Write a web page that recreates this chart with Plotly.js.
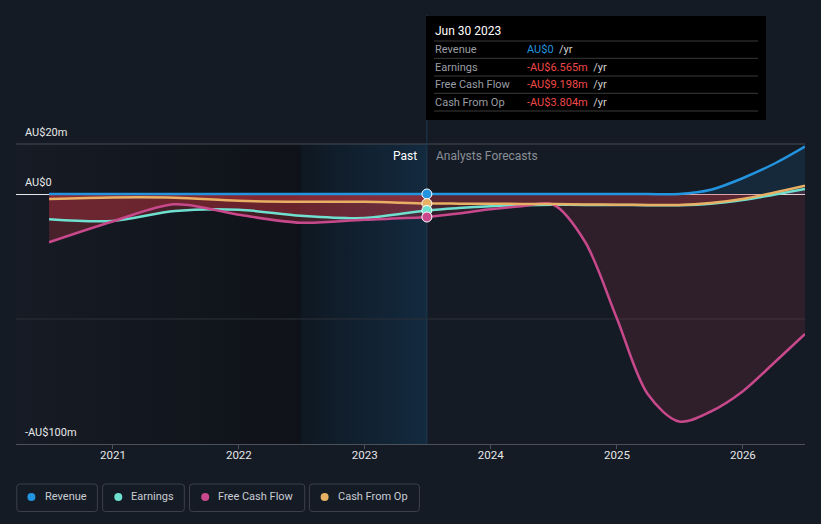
<!DOCTYPE html>
<html><head><meta charset="utf-8">
<script src="https://cdn.plot.ly/plotly-3.0.1.min.js"></script>
<style>html,body{margin:0;padding:0;background:#151b25;}#chart{width:821px;height:524px;}</style>
</head><body><div id="chart"></div>
<script>
// ---- data (AU$ millions) ----
const dates = ['2020-06-30','2020-12-31','2021-06-30','2021-12-31','2022-06-30','2022-12-31','2023-06-30',
               '2023-09-30','2023-12-31','2024-03-31','2024-06-30','2024-09-30','2024-12-31',
               '2025-03-31','2025-06-30','2025-09-30','2025-12-31','2026-03-31','2026-06-30'];
const revenue      = [0, 0, 0, 0, 0, 0, 0,
                      0, 0, 0, 0, 0, 0, 0, 0, 1.7, 6.3, 12.0, 19.0];
const earnings     = [-10.1, -10.8, -6.8, -6.3, -8.7, -9.6, -6.565,
                      -5.6, -4.9, -4.5, -4.3, -4.35, -4.4, -4.45, -4.5, -3.9, -2.4, -0.3, 2.0];
const freeCashFlow = [-19.3, -11.0, -4.1, -8.3, -11.5, -10.3, -9.198,
                      -7.8, -6.1, -4.9, -4.2, -19.0, -49.5, -80.0, -91.0, -87.0, -79.0, -67.7, -56.0];
const cashFromOp   = [-2.0, -1.4, -1.5, -2.7, -3.1, -3.1, -3.804,
                      -3.85, -3.9, -3.95, -4.0, -4.15, -4.3, -4.35, -4.4, -3.6, -2.0, 0.5, 3.3];
const seriesNames  = ['Revenue', 'Earnings', 'Free Cash Flow', 'Cash From Op'];
const yearTicks    = ['2021-01-01','2022-01-01','2023-01-01','2024-01-01','2025-01-01','2026-01-01'];
const yearLabels   = ['2021','2022','2023','2024','2025','2026'];
const yLabelVals   = [20, 0, -100];
const yLabelText   = ['AU$20m', 'AU$0', '-AU$100m'];
const nowIndex     = 6;
const tooltipTitle = 'Jun 30 2023';
const pastStart    = '2022-06-30';
const pastLabel    = 'Past';
const forecastLabel = 'Analysts Forecasts';

// ---- styling ----
const colors = ['#2394df', '#6fe0d0', '#c8488c', '#e8b064'];
const series = [revenue, earnings, freeCashFlow, cashFromOp];
const W = 821, H = 524, ML = 16, MR = 16, MT = 15, MB = 80;
const xRange = ['2020-03-26', '2026-06-30'];
const yRange = [-100, 71.6];
const px = v => (v - ML) / (W - ML - MR);
const py = v => (H - MB - v) / (H - MT - MB);
const t = d => new Date(d).getTime();
const fracX = d => (t(d) - t(xRange[0])) / (t(xRange[1]) - t(xRange[0]));
const FONT = 'Roboto, "Open Sans", sans-serif';
const SM = 0.9;

function gradImg(c1, c2) {
  const svg = "<svg xmlns='http://www.w3.org/2000/svg' width='100' height='100' preserveAspectRatio='none'>" +
    "<defs><linearGradient id='g' x1='0' y1='0' x2='1' y2='0'><stop offset='0' stop-color='" + c1 +
    "'/><stop offset='1' stop-color='" + c2 + "'/></linearGradient></defs>" +
    "<rect width='100' height='100' fill='url(#g)'/></svg>";
  return 'data:image/svg+xml;base64,' + btoa(svg);
}

const traces = [];
const pastFill = 'rgba(205,55,65,0.28)';
const foreFill = 'rgba(200,60,75,0.15)';
[1, 2, 3].forEach(i => {
  traces.push({x: dates.slice(0, nowIndex + 1), y: series[i].slice(0, nowIndex + 1), type: 'scatter', mode: 'lines',
    line: {width: 0, shape: 'spline', smoothing: SM}, fill: 'tozeroy', fillcolor: pastFill, hoverinfo: 'skip', showlegend: false});
  traces.push({x: dates.slice(nowIndex), y: series[i].slice(nowIndex), type: 'scatter', mode: 'lines',
    line: {width: 0, shape: 'spline', smoothing: SM}, fill: 'tozeroy', fillcolor: foreFill, hoverinfo: 'skip', showlegend: false});
});
traces.push({x: dates.slice(nowIndex), y: revenue.slice(nowIndex), type: 'scatter', mode: 'lines',
  line: {width: 0, shape: 'spline', smoothing: SM}, fill: 'tozeroy', fillcolor: 'rgba(35,148,223,0.12)', hoverinfo: 'skip', showlegend: false});
[1, 2, 3, 0].forEach(i => {
  traces.push({x: dates, y: series[i], type: 'scatter', mode: 'lines', name: seriesNames[i],
    line: {color: colors[i], width: 2.5, shape: 'spline', smoothing: SM}, hoverinfo: 'skip', showlegend: false});
});
[0, 3, 1, 2].forEach(i => {
  traces.push({x: [dates[nowIndex]], y: [series[i][nowIndex]], type: 'scatter', mode: 'markers',
    marker: {size: 10, color: colors[i], line: {color: '#ffffff', width: 1}}, hoverinfo: 'skip', showlegend: false});
});

const shapes = [
  {type: 'line', xref: 'paper', yref: 'y', x0: 0, x1: 1, y0: 20, y1: 20, line: {color: '#464b53', width: 1}, layer: 'below'},
  {type: 'line', xref: 'paper', yref: 'y', x0: 0, x1: 1, y0: -50, y1: -50, line: {color: '#2d3139', width: 1}, layer: 'below'},
  {type: 'line', xref: 'x', yref: 'paper', x0: dates[nowIndex], x1: dates[nowIndex], y0: 0, y1: 1, line: {color: '#1d3850', width: 1}, layer: 'below'},
  {type: 'rect', xref: 'paper', yref: 'paper', x0: px(426), x1: px(766), y0: py(120), y1: py(16), fillcolor: '#000000', line: {width: 0}, layer: 'above'}
];
[41, 58.3, 76, 93.3, 111].forEach(yy => shapes.push({type: 'line', xref: 'paper', yref: 'paper', x0: px(434), x1: px(758), y0: py(yy), y1: py(yy),
  line: {color: '#3a3a3a', width: 1}, layer: 'above'}));

function rrect(x0, y0, x1, y1, r) {
  const X = px, Y = py;
  return `M${X(x0 + r)},${Y(y0)} L${X(x1 - r)},${Y(y0)} Q${X(x1)},${Y(y0)} ${X(x1)},${Y(y0 + r)} L${X(x1)},${Y(y1 - r)} Q${X(x1)},${Y(y1)} ${X(x1 - r)},${Y(y1)} L${X(x0 + r)},${Y(y1)} Q${X(x0)},${Y(y1)} ${X(x0)},${Y(y1 - r)} L${X(x0)},${Y(y0 + r)} Q${X(x0)},${Y(y0)} ${X(x0 + r)},${Y(y0)} Z`;
}
const legendBoxes = [[16.8, 97.4], [102.6, 184.3], [189.5, 304.7], [309.4, 419.4]];
const legendDots = [31.4, 118.3, 205.2, 324.6];
const legendTextX = [43, 128.8, 215.8, 336.2];

const annotations = [];
legendBoxes.forEach((b, i) => {
  shapes.push({type: 'path', xref: 'paper', yref: 'paper', path: rrect(b[0], 484, b[1], 511.5, 3), line: {color: '#3b4049', width: 1}, fillcolor: 'rgba(0,0,0,0)', layer: 'above'});
  shapes.push({type: 'circle', xref: 'paper', yref: 'paper', x0: px(legendDots[i] - 4), x1: px(legendDots[i] + 4), y0: py(501), y1: py(493), fillcolor: colors[i], line: {width: 0}, layer: 'above'});
  annotations.push({xref: 'paper', yref: 'paper', x: px(legendTextX[i]), y: py(497), xanchor: 'left', yanchor: 'middle', showarrow: false,
    text: seriesNames[i], font: {family: FONT, size: 11, color: '#c9cdd3'}});
});

yLabelVals.forEach((v, i) => annotations.push({xref: 'paper', yref: 'y', x: px(23), y: v, yshift: 12, xanchor: 'left', yanchor: 'middle',
  showarrow: false, text: yLabelText[i], font: {family: FONT, size: 11, color: '#e8e8e8'}}));

annotations.push({xref: 'x', yref: 'paper', x: dates[nowIndex], xshift: -8, y: py(156), xanchor: 'right', yanchor: 'middle', showarrow: false,
  text: pastLabel, font: {family: FONT, size: 12, color: '#ffffff'}});
annotations.push({xref: 'x', yref: 'paper', x: dates[nowIndex], xshift: 7, y: py(156), xanchor: 'left', yanchor: 'middle', showarrow: false,
  text: forecastLabel, font: {family: FONT, size: 12, color: '#8a8f97'}});

annotations.push({xref: 'paper', yref: 'paper', x: px(433), y: py(31), xanchor: 'left', yanchor: 'middle', showarrow: false,
  text: tooltipTitle, font: {family: FONT, size: 12, color: '#ffffff'}});
function fmt(v) { return v === 0 ? 'AU$0' : (v < 0 ? '-' : '') + 'AU$' + Math.abs(v).toFixed(3) + 'm'; }
const rowY = [49.5, 67, 84.5, 102];
series.forEach((s, i) => {
  const v = s[nowIndex];
  const c = v === 0 ? '#2394df' : (v < 0 ? '#f04848' : '#3fcf7f');
  annotations.push({xref: 'paper', yref: 'paper', x: px(433), y: py(rowY[i]), xanchor: 'left', yanchor: 'middle', showarrow: false,
    text: seriesNames[i], font: {family: FONT, size: 11, color: '#9a9ea5'}});
  annotations.push({xref: 'paper', yref: 'paper', x: px(525), y: py(rowY[i]), xanchor: 'left', yanchor: 'middle', showarrow: false,
    text: '<span style="color:' + c + '">' + fmt(v) + '</span>  /yr', font: {family: FONT, size: 11, color: '#d0d0d0'}});
});

const images = [
  {source: gradImg('#161b25', '#0f1218'), xref: 'paper', yref: 'y', x: 0, y: 20, sizex: fracX(pastStart), sizey: 120,
   xanchor: 'left', yanchor: 'top', sizing: 'stretch', layer: 'below'},
  {source: gradImg('#0f1822', '#132a3f'), xref: 'paper', yref: 'y', x: fracX(pastStart), y: 20, sizex: fracX(dates[nowIndex]) - fracX(pastStart), sizey: 120,
   xanchor: 'left', yanchor: 'top', sizing: 'stretch', layer: 'below'}
];

const layout = {
  width: W, height: H,
  margin: {l: ML, r: MR, t: MT, b: MB, pad: 0},
  paper_bgcolor: '#151b25', plot_bgcolor: 'rgba(0,0,0,0)',
  font: {family: FONT, color: '#e6e6e6'},
  showlegend: false, hovermode: false,
  xaxis: {type: 'date', range: xRange, showgrid: false, zeroline: false, showline: true, linecolor: '#4b5059', linewidth: 1,
    ticks: 'outside', ticklen: 4, tickcolor: '#4b5059', tickvals: yearTicks, ticktext: yearLabels, ticklabelstandoff: -4,
    tickfont: {family: FONT, size: 11.5, color: '#e6e6e6'}, fixedrange: true},
  yaxis: {range: yRange, showgrid: false, showticklabels: false, ticks: '', zeroline: true, zerolinecolor: '#e8e8e8', zerolinewidth: 1, fixedrange: true},
  shapes: shapes, annotations: annotations, images: images
};
Plotly.newPlot('chart', traces, layout, {staticPlot: true, displayModeBar: false});
</script></body></html>
